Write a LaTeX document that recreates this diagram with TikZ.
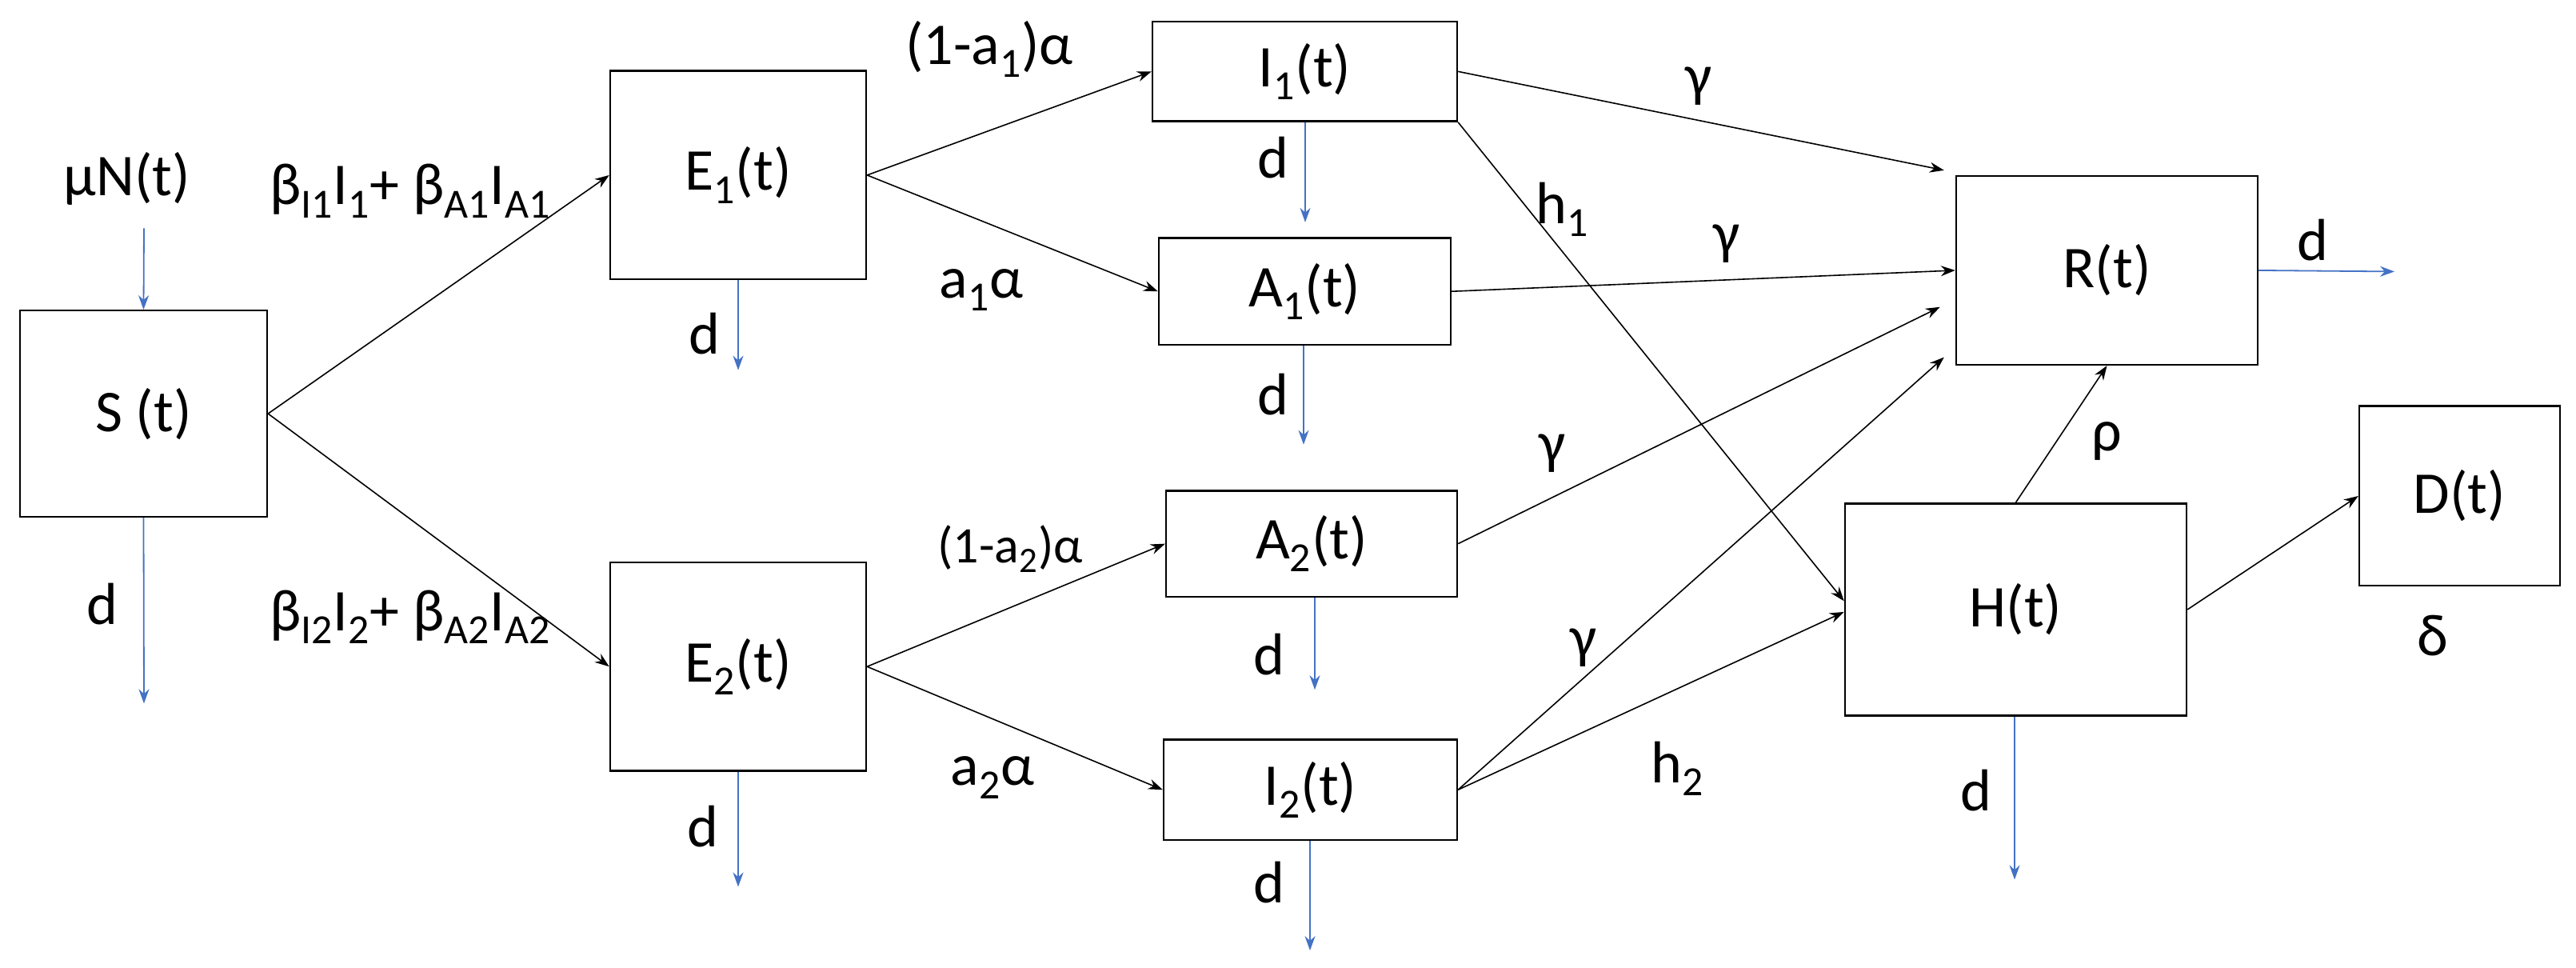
\documentclass[tikz,border=0pt]{standalone}
\usepackage{fontspec}
\setmainfont{Carlito}
\usetikzlibrary{arrows.meta,calc}
\definecolor{ob}{RGB}{68,114,196}
\newcommand{\sbs}[1]{\textsubscript{#1}}
\begin{document}
\begin{tikzpicture}[x=0.5pt,y=-0.3755pt,
  box/.style={draw,line width=1.2pt,inner sep=0pt,font=\fontsize{37}{40}\selectfont},
  lab/.style={inner sep=0pt,font=\fontsize{37}{40}\selectfont},
  arr/.style={line width=0.8pt,-{Stealth[length=9pt,width=6.5pt]}},
  bar/.style={ob,line width=0.9pt,-{Stealth[length=9pt,width=6.5pt]}}]
\useasboundingbox (0,0) rectangle (3221,1610);
\node[box,minimum width=154.5pt,minimum height=128.8pt] (S) at (179.5,688.5) {S (t)};
\node[box,minimum width=160pt,minimum height=130.3pt] (E1) at (923,291.5) {E\sbs{1}(t)};
\node[box,minimum width=160pt,minimum height=130.3pt] (E2) at (923,1109.5) {E\sbs{2}(t)};
\node[box,minimum width=190.5pt,minimum height=62.3pt] (I1) at (1631.5,119) {I\sbs{1}(t)};
\node[box,minimum width=182.5pt,minimum height=66.8pt] (A1) at (1631.5,485) {A\sbs{1}(t)};
\node[box,minimum width=182pt,minimum height=66.1pt] (A2) at (1640,905) {A\sbs{2}(t)};
\node[box,minimum width=183.5pt,minimum height=62.7pt] (I2) at (1638.5,1314.5) {I\sbs{2}(t)};
\node[box,minimum width=188.5pt,minimum height=117.9pt] (R) at (2634.5,450) {R(t)};
\node[box,minimum width=213.5pt,minimum height=132.6pt] (H) at (2520.5,1014.5) {H(t)};
\node[box,minimum width=125.5pt,minimum height=112.3pt] (D) at (3075.5,825.5) {D(t)};
% outflows
\coordinate (mu0) at (180,380);
\coordinate (Sd) at (180,1171);
\coordinate (E1d) at (923,616);
\coordinate (E2d) at (923,1476);
\coordinate (I1d) at (1632,370);
\coordinate (A1d) at (1630,740);
\coordinate (A2d) at (1644,1148);
\coordinate (I2d) at (1638,1582);
\coordinate (Rd) at (2994,452);
\coordinate (Hd) at (2519,1464);
\draw[bar] (mu0) -- (S.north);
\draw[bar] (S.south) -- (Sd);
\draw[bar] (E1.south) -- (E1d);
\draw[bar] (E2.south) -- (E2d);
\draw[bar] (I1d|-I1.south) -- (I1d);
\draw[bar] (A1d|-A1.south) -- (A1d);
\draw[bar] (A2d|-A2.south) -- (A2d);
\draw[bar] (I2d|-I2.south) -- (I2d);
\draw[bar] (R.east) -- (Rd);
\draw[bar] (Hd|-H.south) -- (Hd);
% flows
\draw[arr] (S.east) -- (E1.west);
\draw[arr] (S.east) -- (E2.west);
\draw[arr] (E1.east) -- (I1.west);
\draw[arr] (E1.east) -- (A1.west);
\draw[arr] (E2.east) -- (A2.west);
\draw[arr] (E2.east) -- (I2.west);
\draw[arr] (I1.east) -- ($(R.north west)+(-14,-8)$);
\draw[arr] (I1.south east) -- ($(H.west)+(0,-14)$);
\draw[arr] (A1.east) -- (R.west);
\draw[arr] (A2.east) -- ($(R.west)+(-19,61)$);
\draw[arr] (I2.east) -- ($(R.south west)+(-14,-14)$);
\draw[arr] (I2.east) -- ($(H.west)+(0,4)$);
\draw[arr] (H.north) -- (R.south);
\draw[arr] (H.east) -- (D.west);
% labels
\node[lab] (lmu) at (159,298) {μN(t)};
\node[lab] (lb1) at (513,318) {β\sbs{I1}I\sbs{1}+ β\sbs{A1}I\sbs{A1}};
\node[lab] (lb2) at (513,1027) {β\sbs{I2}I\sbs{2}+ β\sbs{A2}I\sbs{A2}};
\node[lab] (lSd) at (128,1006) {d};
\node[lab] (lE1d) at (881,555) {d};
\node[lab] (lE2d) at (879,1376) {d};
\node[lab] (la1) at (1237,82) {(1-a\sbs{1})α};
\node[lab] (la1b) at (1227,483) {a\sbs{1}α};
\node[lab,font=\fontsize{32}{36}\selectfont] (la2) at (1263,914) {(1-a\sbs{2})α};
\node[lab] (la2b) at (1241,1294) {a\sbs{2}α};
\node[lab] (lI1d) at (1592,262) {d};
\node[lab] (lA1d) at (1592,657) {d};
\node[lab] (lA2d) at (1587,1089) {d};
\node[lab] (lI2d) at (1587,1469) {d};
\node[lab] (lg1) at (2124,144) {γ};
\node[lab] (lh1) at (1954,349) {h\sbs{1}};
\node[lab] (lg2) at (2159,406) {γ};
\node[lab] (lg3) at (1941,755) {γ};
\node[lab] (lg4) at (1980,1078) {γ};
\node[lab] (lh2) at (2098,1279) {h\sbs{2}};
\node[lab] (lrho) at (2634,734) {ρ};
\node[lab] (ldel) at (3042,1058) {δ};
\node[lab] (lRd) at (2892,400) {d};
\node[lab] (lHd) at (2471,1315) {d};
\end{tikzpicture}
\end{document}
